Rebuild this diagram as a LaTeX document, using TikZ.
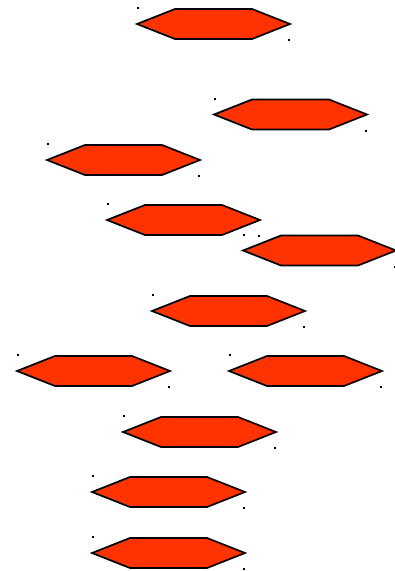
\documentclass[tikz,border=0pt]{standalone}
\usetikzlibrary{positioning}
\definecolor{hexfill}{HTML}{FF3300}

\begin{document}
\begin{tikzpicture}[x=1pt,y=-1pt]
\tikzset{
  hexedge/.style={draw=black,fill=hexfill,line width=1.7pt,line join=miter},
  hexdot/.style={fill=black},
  hexa/.pic={
    \path[hexedge] (-76.5,0) -- (-38.5,-15) -- (38.5,-15) -- (76.5,0)
      -- (38.5,15) -- (-38.5,15) -- cycle;
    \coordinate (-tl) at (-75.5,-16);
    \coordinate (-br) at (75.5,16);
    \fill[hexdot] ([shift={(-1,-1)}]-tl) rectangle ([shift={(1,1)}]-tl);
    \fill[hexdot] ([shift={(-1,-1)}]-br) rectangle ([shift={(1,1)}]-br);
  }
}
\useasboundingbox (0,0) rectangle (395,571);
\pic (h_1) at (213.5,24) {hexa};
\pic (h_2) at (290.5,114.5) {hexa};
\pic (h_3) at (123.5,160) {hexa};
\pic (h_4) at (183.5,220) {hexa};
\pic (h_5) at (319.5,250.5) {hexa};
\pic (h_6) at (228.5,311) {hexa};
\pic (h_7) at (93.5,371) {hexa};
\pic (h_8) at (305.5,371) {hexa};
\pic (h_9) at (199.5,432) {hexa};
\pic (h_10) at (168.5,492) {hexa};
\pic (h_11) at (168.5,553) {hexa};
\end{tikzpicture}
\end{document}
